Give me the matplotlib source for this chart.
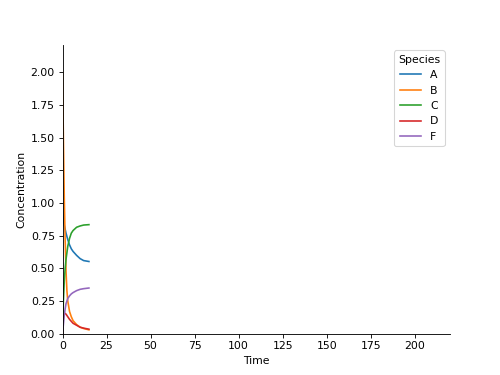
import matplotlib
matplotlib.use('Agg')
import matplotlib.pyplot as plt

# concentrations
time = [0, 0.5, 1, 1.5, 2, 2.5, 3, 4, 5, 6, 8, 10, 12, 15]
conc_A = [1.0, 0.86, 0.83, 0.80, 0.77, 0.745, 0.72, 0.68, 0.65, 0.63, 0.60, 0.575, 0.56, 0.553]
conc_B = [2.0, 1.5, 1.05, 0.72, 0.48, 0.33, 0.25, 0.17, 0.13, 0.10, 0.07, 0.05, 0.04, 0.03]
conc_C = [0.0, 0.25, 0.40, 0.50, 0.57, 0.62, 0.67, 0.73, 0.77, 0.79, 0.815, 0.825, 0.832, 0.835]
conc_D = [0.0, 0.13, 0.155, 0.155, 0.15, 0.14, 0.13, 0.11, 0.095, 0.08, 0.065, 0.05, 0.043, 0.035]
conc_F = [0.0, 0.07, 0.14, 0.19, 0.23, 0.25, 0.27, 0.29, 0.305, 0.315, 0.33, 0.34, 0.345, 0.35]
species = ['A', 'B', 'C', 'D', 'F']

fig, ax = plt.subplots(figsize=(6.4, 4.8))

for name, vals in zip(species, [conc_A, conc_B, conc_C, conc_D, conc_F]):
    ax.plot(time, vals, label=name)

ax.set_xlim(0, 220)
ax.set_ylim(0, 2.21)
ax.set_xlabel('Time')
ax.set_ylabel('Concentration')
ax.spines['top'].set_visible(False)
ax.spines['right'].set_visible(False)
ax.legend(title='Species', loc='upper right')

# 640x480 layout scaled down to 500x375
fig.savefig('out.png', dpi=78.125)
